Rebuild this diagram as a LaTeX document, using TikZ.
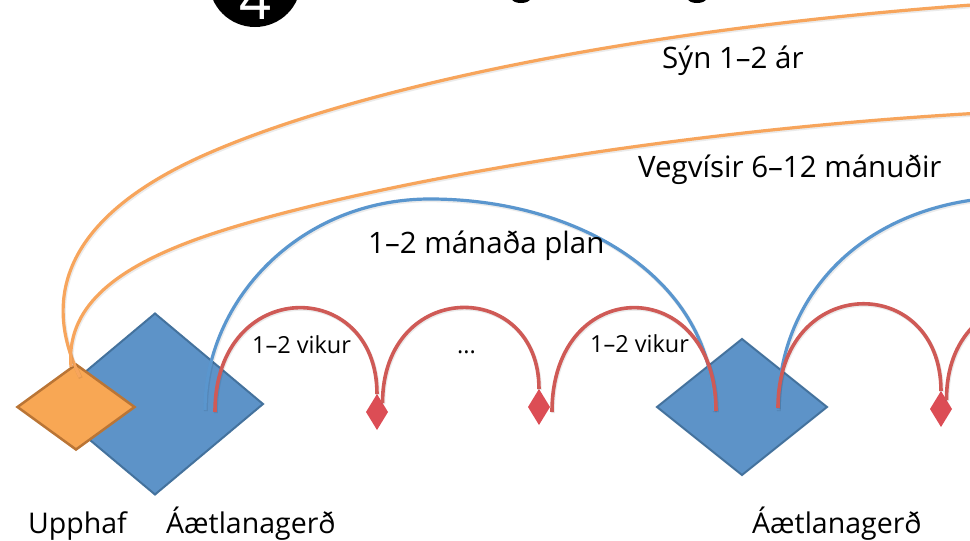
\documentclass[tikz,border=0pt]{standalone}
\usepackage{fontspec}
\setmainfont{Open Sans}
\usetikzlibrary{shapes.geometric}
\definecolor{orfill}{HTML}{F8A754}
\definecolor{orline}{HTML}{BA7535}
\definecolor{orcurve}{HTML}{F7A55C}
\definecolor{blfill}{HTML}{5D93C8}
\definecolor{blline}{HTML}{44729D}
\definecolor{blcurve}{HTML}{5A96CE}
\definecolor{rdcurve}{HTML}{CF5A56}
\definecolor{rdfill}{HTML}{DC4D55}
\tikzset{
  bigdia/.style={diamond, draw=blline, fill=blfill, line width=2pt, inner sep=0pt, outer sep=0pt},
  ordia/.style={diamond, draw=orline, fill=orfill, line width=2.5pt, inner sep=0pt, outer sep=0pt},
  reddia/.style={diamond, fill=rdfill, inner sep=0pt, outer sep=0pt, minimum width=22pt, minimum height=36pt},
  shadowed/.style={preaction={draw=black, opacity=0.08, line width=4pt, transform canvas={shift={(0.8pt,-1.2pt)}}}},
  orarc/.style={draw=orcurve, line width=3.2pt, shadowed},
  blarc/.style={draw=blcurve, line width=3.2pt, shadowed},
  rdarc/.style={draw=rdcurve, line width=3.6pt, shadowed},
  toptxt/.style={font=\fontsize{29.5}{33}\selectfont, anchor=base west, inner sep=0pt},
  bigtxt/.style={font=\fontsize{28.5}{32}\selectfont, anchor=base west, inner sep=0pt},
  smalltxt/.style={font=\fontsize{23.5}{26}\selectfont, anchor=base west, inner sep=0pt},
}
\begin{document}
\begin{tikzpicture}[x=1pt,y=-1pt]
\useasboundingbox (0,0) rectangle (970,541);
\clip (0,0) rectangle (970,541);
\fill[white] (0,0) rectangle (970,541);

% title remnants (cut by the top edge, as in the reference)
\node[circle, fill=black, minimum size=92pt, inner sep=0pt] (C) at (255,-19) {};
\node[text=white, font=\fontsize{56}{60}\selectfont, anchor=base, inner sep=0pt] (C4) at (256,19) {4};
\fill (521,-1) ellipse [x radius=9pt, y radius=4pt];
\fill (697,-1) ellipse [x radius=9pt, y radius=4pt];

% diamonds
\node[bigdia, minimum width=216pt, minimum height=181pt] (A1) at (155,404) {};
\node[ordia, minimum width=117pt, minimum height=85pt] (U) at (76,407) {};
\node[bigdia, minimum width=170pt, minimum height=136pt] (A2) at (742,407) {};

% anchor coordinates
\coordinate (u1) at (80,377);
\coordinate (u2) at (71,367);
\coordinate (o1) at (1000,3);
\coordinate (o2) at (1000,112);
\coordinate (b1s) at (205,410);
\coordinate (b1e) at (714,411);
\coordinate (b2s) at (778,410);
\coordinate (b2e) at (1010,197);
\coordinate (p1) at (215,412);
\coordinate (p3) at (552,412);
\coordinate (q3) at (716,411);
\coordinate (p4) at (778,408);
\coordinate (q5) at (1110,391);

% red arrow heads
\node[reddia] (R1) at (377,412) {};
\node[reddia] (R2) at (539,407) {};
\node[reddia] (R3) at (941,409) {};

% orange arcs
\draw[orarc] (u1) .. controls (52,320) and (40,230) .. (200,157) .. controls (330,98) and (600,30) .. (o1);
\draw[orarc] (u2) .. controls (66,310) and (110,270) .. (200,238) .. controls (330,192) and (650,130) .. (o2);

% blue arcs
\draw[blarc] (b1s) .. controls (205,300) and (300,199) .. (430,199) .. controls (580,199) and (714,280) .. (b1e);
\draw[blarc] (b2s) .. controls (778,290) and (870,200) .. (b2e);

% red arcs
\draw[rdarc] (p1) .. controls (215,276) and (377,276) .. (R1.north);
\draw[rdarc] (R1.north east) .. controls (383,278) and (539,278) .. (R2.north);
\draw[rdarc] (p3) .. controls (552,273) and (716,273) .. (q3);
\draw[rdarc] (p4) .. controls (778,272) and (941,272) .. (R3.north);
\draw[rdarc] (R3.north east) .. controls (946,272) and (1110,272) .. (q5);

% texts
\node[toptxt] (t1) at (662,68) {Sýn 1–2 ár};
\node[toptxt] (t2) at (638,177) {Vegvísir 6–12 mánuðir};
\node[toptxt] (t3) at (368,253) {1–2 mánaða plan};
\node[smalltxt] (t4) at (252,353) {1–2 vikur};
\node[smalltxt] (t5) at (457,353) {...};
\node[smalltxt] (t6) at (590,352) {1–2 vikur};
\node[bigtxt] (t7) at (28,533) {Upphaf};
\node[bigtxt] (t8) at (166,533) {Áætlanagerð};
\node[bigtxt] (t9) at (752,533) {Áætlanagerð};
\end{tikzpicture}
\end{document}
